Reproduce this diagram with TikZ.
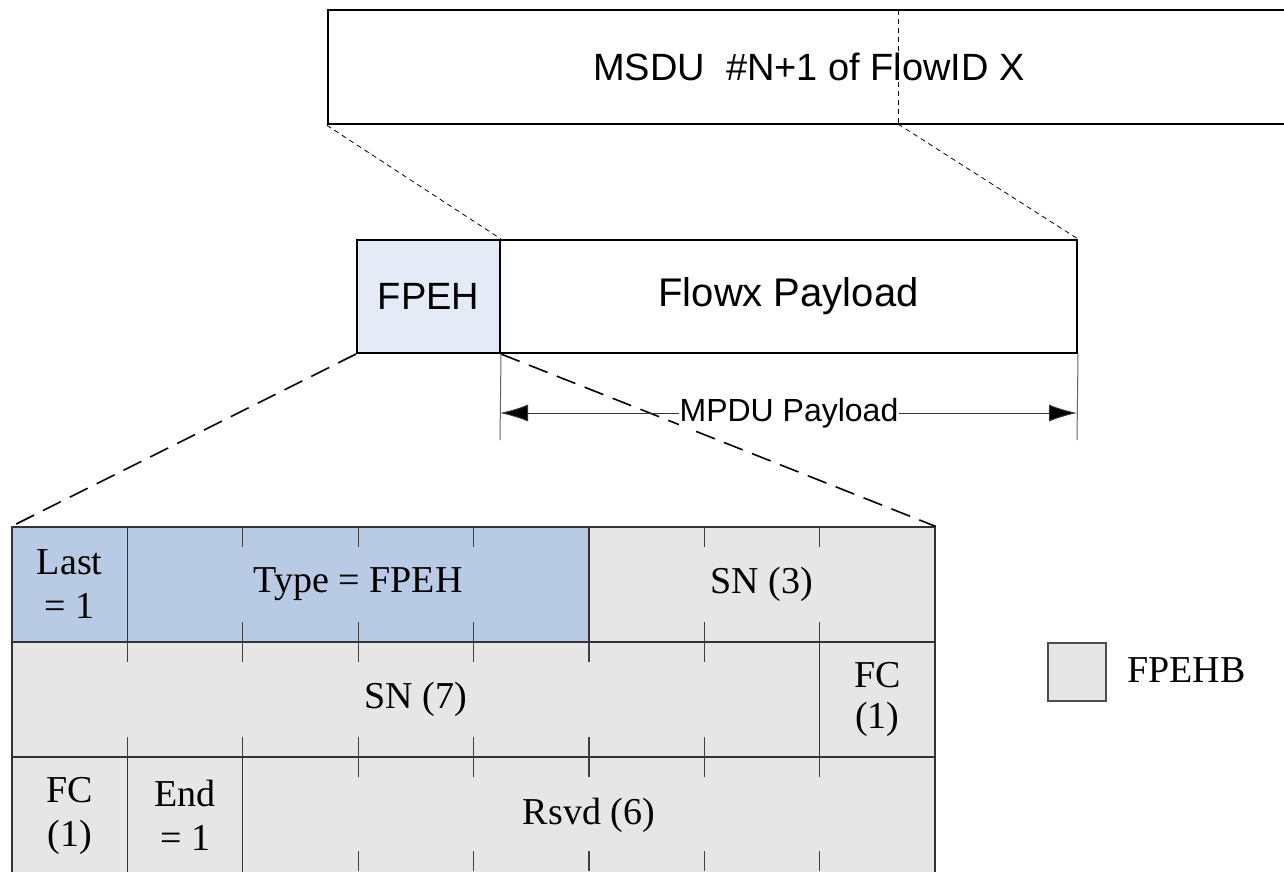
\documentclass[tikz,border=0pt]{standalone}
\usepackage{fontspec}
\setmainfont{Liberation Serif}
\newfontfamily\arialf{Liberation Sans}
\usetikzlibrary{arrows.meta}
\definecolor{blueA}{HTML}{B8CAE4}
\definecolor{blueL}{HTML}{E4EBF6}
\definecolor{greyF}{HTML}{E6E6E6}
\begin{document}
\begin{tikzpicture}[x=1pt,y=-1pt,
  sansbox/.style={draw=black, line width=2pt, inner sep=0pt, font=\arialf\fontsize{38}{44}\selectfont},
  cell/.style={draw=black!80, line width=1.2pt, inner sep=0pt, minimum height=115pt,
    font=\fontsize{38}{44}\selectfont, align=center},
  bluecell/.style={cell, fill=blueA},
  greycell/.style={cell, fill=greyF},
  tick/.style={draw=black!75, line width=1.2pt},
  thindash/.style={draw=black, line width=0.8pt, dash pattern=on 5pt off 4pt},
  bigdash/.style={draw=black, line width=1.6pt, dash pattern=on 20pt off 10pt},
  extline/.style={draw=black!60, line width=1pt},
  dimarrow/.style={draw=black!80, line width=1pt, {Latex[length=28pt,width=17pt,fill=black]}-{Latex[length=28pt,width=17pt,fill=black]}}
]
\useasboundingbox (0,0) rectangle (1284,871);

% top MSDU box
\node[sansbox, line width=2.5pt, minimum width=962pt, minimum height=114pt] (msdu) at (809,67) {MSDU\ \ \#N+1 of FlowID X};
\coordinate (splitT) at (898,10);
\coordinate (splitB) at (898,124);
\draw[thindash] (splitT) -- (splitB);

% FPEH + payload
\node[sansbox, fill=blueL, minimum width=143pt, minimum height=113pt] (fpeh) at (428.5,296.5) {FPEH};
\node[sansbox, font=\arialf\fontsize{40}{44}\selectfont, minimum width=577pt, minimum height=113pt] (payload) at (788.5,296.5) {Flowx Payload};

% thin dashed from MSDU to FPEH/payload
\draw[thindash] (msdu.south west) -- (fpeh.north east);
\draw[thindash] (splitB) -- (payload.north east);

% grid
\node[bluecell, minimum width=115.4pt] (last) at (69.7,584.5) {Last\\= 1};
\node[bluecell, minimum width=461.5pt] (type) at (358.2,584.5) {Type = FPEH};
\node[greycell, minimum width=346.1pt] (sn3) at (762,584.5) {SN (3)};
\node[greycell, minimum width=807.6pt] (sn7) at (415.8,699.5) {SN (7)};
\node[greycell, minimum width=115.4pt] (fc1) at (877.3,699.5) {\raisebox{-3pt}{FC}\\(1)};
\node[greycell, minimum width=115.4pt, minimum height=117pt] (fc2) at (69.7,815.5) {FC\\(1)};
\node[greycell, minimum width=115.4pt, minimum height=117pt] (endc) at (185.1,815.5) {End\\= 1};
\node[greycell, minimum width=692.3pt, minimum height=117pt] (rsvd) at (588.9,815.5) {Rsvd (6)};

% ticks inside merged cells
\foreach \x in {242.75,358.1,473.5,704.25,819.6}
  \draw[tick] (\x,527) -- ++(0,20) (\x,642) -- ++(0,-20);
\foreach \x in {127.4,242.75,358.1,473.5,588.9,704.25}
  \draw[tick] (\x,642) -- ++(0,20) (\x,757) -- ++(0,-20);
\foreach \x in {358.1,473.5,588.9,704.25,819.6}
  \draw[tick] (\x,757) -- ++(0,20) (\x,871) -- ++(0,-20);

% big dashed zoom lines
\draw[bigdash] (fpeh.south west) -- (last.north west);
\draw[bigdash] (fpeh.south east) -- (sn3.north east);

% dimension lines
\coordinate (ext1) at (500,440);
\coordinate (ext2) at (1077,440);
\draw[extline] (fpeh.south east) -- (ext1);
\draw[extline] (payload.south east) -- (ext2);
\coordinate (a1) at (500,413);
\coordinate (a2) at (1077,413);
\draw[dimarrow] (a1) -- (a2);
\node[fill=white, inner sep=1pt, font=\arialf\fontsize{32}{36}\selectfont] (mpdu) at (789,413) {MPDU Payload};

% legend
\node[draw=black!70, line width=1.2pt, fill=greyF, minimum width=58pt, minimum height=58pt, inner sep=0pt] (leg) at (1077,672) {};
\node[anchor=west, inner sep=0pt, font=\fontsize{38}{42}\selectfont] (legtext) at (1127,670) {FPEHB};
\end{tikzpicture}
\end{document}
